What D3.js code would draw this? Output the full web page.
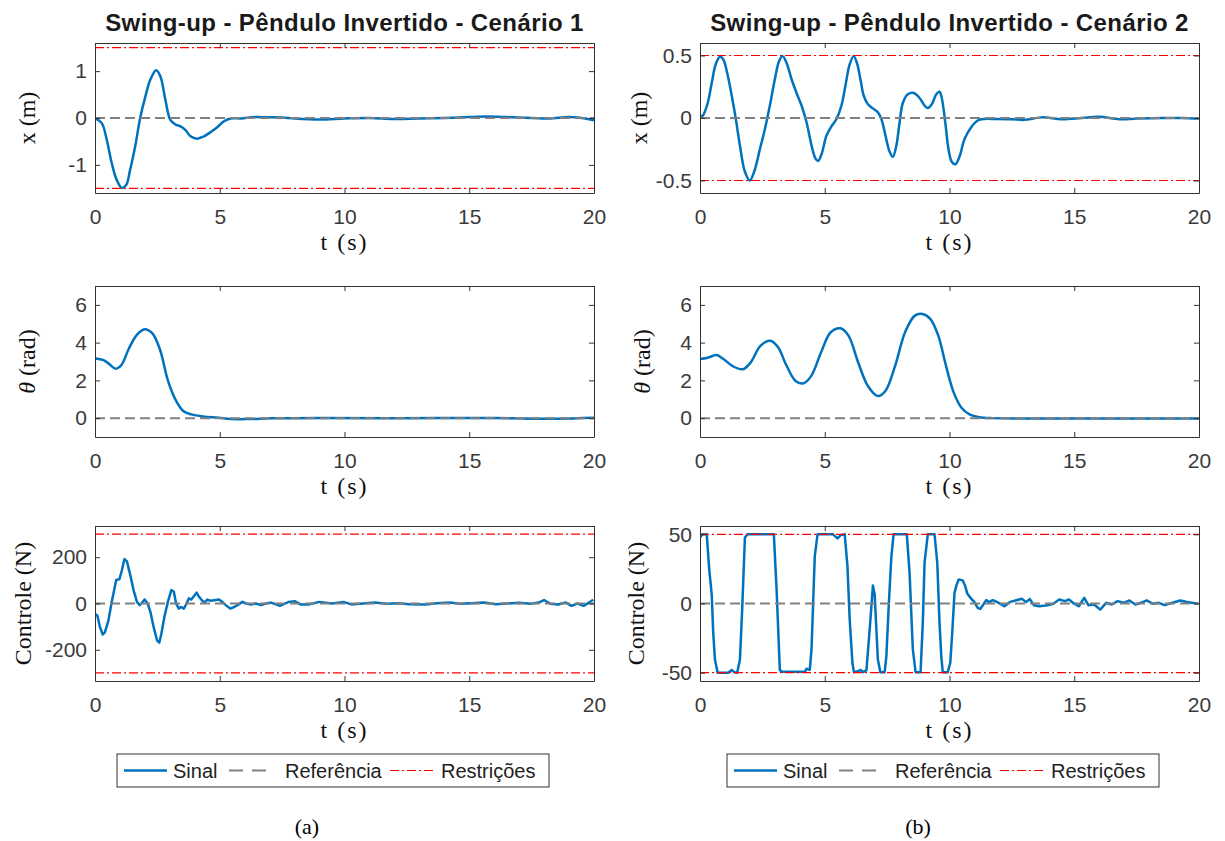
<!DOCTYPE html>
<html lang="pt">
<head>
<meta charset="UTF-8">
<script src="https://cdn.jsdelivr.net/npm/d3@7"></script>
<title>Swing-up - Pêndulo Invertido</title>
<style>
  body { margin: 0; background: #fff; }
</style>
</head>
<body>
<script>

// ---- data ----
var xTicks = [0, 5, 10, 15, 20];
var refT = [0, 20];
var refV = [0, 0];

// Cenario 1 - x (m)
var x1T = [0,0.27,0.47,0.67,0.87,1.07,1.25,1.41,1.61,1.81,2.02,2.22,2.45,2.62,2.82,3.02,3.23,3.43,3.63,3.83,4.1,4.37,4.64,4.91,5.17,5.44,5.85,6.4,6.9,7.5,8,9,10,11,12,13,14,15,15.7,16.5,17.5,18.2,19,19.5,20];
var x1V = [0,-0.11,-0.46,-0.96,-1.32,-1.49,-1.43,-1.1,-0.61,0,0.46,0.82,1.02,0.89,0.39,-0.04,-0.14,-0.18,-0.26,-0.39,-0.44,-0.39,-0.30,-0.19,-0.07,-0.01,-0.01,0.02,0.015,0.01,-0.01,-0.03,-0.01,0,-0.02,-0.01,0,0.02,0.03,0.02,0,-0.01,0.02,0,-0.05];

// Cenario 1 - theta (rad)
var th1T = [0,0.34,0.58,0.83,1.05,1.36,1.67,1.99,2.30,2.61,2.92,3.24,3.55,3.86,4.33,4.96,5.43,6.2,7.1,9,12,16,18.5,20];
var th1V = [3.16,3.07,2.85,2.62,2.8,3.69,4.40,4.71,4.49,3.61,2.0,0.94,0.36,0.2,0.09,0.02,-0.05,-0.05,-0.01,0.01,0,0.005,-0.03,0.02];

// Cenario 1 - controle (N)
var u1T = [0,0.09,0.2,0.31,0.4,0.54,0.67,0.85,0.98,1.08,1.18,1.28,1.41,1.545,1.68,1.79,1.88,1.99,2.11,2.22,2.35,2.49,2.58,2.66,2.78,2.92,3.06,3.16,3.25,3.36,3.45,3.56,3.67,3.76,3.86,3.97,4.07,4.17,4.3,4.4,4.5,4.64,4.84,4.97,5.1,5.24,5.42,5.58,5.71,5.91,6.05,6.25,6.45,6.65,6.85,7.06,7.41,7.77,8.0,8.24,8.55,9.0,9.5,9.96,10.27,10.74,11.2,11.7,12.15,12.6,13.25,13.7,14.2,14.65,15.1,15.6,16.06,16.5,17.0,17.47,17.78,18.0,18.25,18.56,18.87,19.1,19.34,19.58,19.8,19.97];
var u1V = [-46,-51,-102,-134,-124,-73,7,102,105,145,192,182,124,58,7,-7,3,17,0,-36,-102,-160,-169,-131,-58,7,58,51,0,-22,-15,-22,0,22,17,32,47,29,12,4,17,12,15,17,7,-7,-22,-15,-7,7,0,-4,0,-7,0,4,-10,7,10,-4,-4,7,0,7,-4,0,4,-1,1,-3,-4,1,4,-1,1,4,-3,0,3,-1,4,15,-1,-4,4,-10,0,-10,4,16];

// Cenario 2 - x (m)
var x2T = [0,0.13,0.31,0.47,0.63,0.8,0.93,1.09,1.27,1.43,1.6,1.8,2.0,2.17,2.4,2.6,2.8,3.0,3.17,3.31,3.47,3.67,3.87,4.07,4.27,4.47,4.63,4.73,4.87,5.07,5.27,5.47,5.67,5.83,6.0,6.16,6.29,6.43,6.56,6.73,6.93,7.13,7.27,7.4,7.6,7.73,7.87,8.0,8.13,8.33,8.57,8.8,9.0,9.13,9.29,9.47,9.6,9.69,9.83,9.96,10.09,10.23,10.4,10.6,10.87,11.13,11.4,11.8,12.5,13,13.7,14.5,15.3,16,16.8,17.5,18.5,19.3,20];
var x2V = [0,0.024,0.12,0.28,0.43,0.49,0.47,0.36,0.18,0,-0.22,-0.43,-0.5,-0.43,-0.25,-0.09,0.1,0.31,0.455,0.495,0.44,0.31,0.2,0.1,-0.034,-0.22,-0.325,-0.344,-0.29,-0.14,-0.066,-0.008,0.1,0.26,0.43,0.495,0.44,0.31,0.18,0.11,0.077,0.045,-0.008,-0.11,-0.27,-0.31,-0.22,-0.034,0.12,0.19,0.2,0.16,0.1,0.08,0.11,0.19,0.21,0.16,-0.034,-0.25,-0.35,-0.37,-0.31,-0.17,-0.074,-0.02,-0.008,-0.008,-0.01,-0.015,0.005,-0.01,0,0.01,-0.01,-0.005,0,0,-0.005];

// Cenario 2 - theta (rad)
var th2T = [0,0.31,0.66,0.94,1.33,1.72,2.03,2.43,2.82,3.13,3.44,3.83,4.15,4.46,4.85,5.24,5.63,5.95,6.34,6.73,7.12,7.43,7.82,8.22,8.61,8.92,9.23,9.55,9.86,10.17,10.48,10.8,11.19,11.74,13,15,17,20];
var th2V = [3.13,3.2,3.34,3.13,2.74,2.59,2.95,3.84,4.1,3.75,2.86,1.97,1.85,2.24,3.48,4.55,4.76,4.37,2.95,1.7,1.17,1.44,2.77,4.55,5.43,5.52,5.26,4.37,2.77,1.35,0.55,0.2,0.05,0,-0.02,-0.02,-0.02,-0.02];

// Cenario 2 - controle (N)
var u2T = [0,0.09,0.27,0.37,0.47,0.53,0.6,0.71,0.87,1.13,1.27,1.37,1.49,1.6,1.69,1.8,1.91,2.96,3.07,3.2,3.29,4.2,4.27,4.4,4.47,4.6,4.71,5.33,5.51,5.64,5.8,5.91,6.0,6.11,6.17,6.33,6.44,6.53,6.67,6.8,6.93,7.0,7.07,7.13,7.23,7.4,7.47,7.57,7.67,7.76,8.29,8.4,8.53,8.64,8.84,8.93,9.0,9.13,9.4,9.51,9.6,9.67,9.73,9.93,10.03,10.11,10.2,10.29,10.37,10.53,10.63,10.71,10.84,11.0,11.13,11.23,11.33,11.47,11.6,11.73,11.9,12.2,12.44,12.68,12.9,13.07,13.22,13.38,13.6,13.93,14.16,14.4,14.63,14.79,14.95,15.18,15.4,15.57,15.8,16.04,16.28,16.5,16.74,16.98,17.21,17.45,17.68,17.9,18.15,18.39,18.62,18.94,19.25,19.48,19.7,19.95];
var u2V = [47.7,50,50,24.7,6.5,-21,-40.7,-50,-50,-50,-48,-49.6,-50,-40.7,-4.4,47.7,50,50,10,-48,-49.4,-49.4,-47.2,-47.9,-33,34,50,50,47,49.4,50,27,-11.6,-43,-49.6,-49,-48,-49.6,-48.4,-19,13,6.5,-19,-40.7,-49.6,-49.6,-38,0.5,34,50,50,22,-33,-49.6,-49.6,-14,29.5,50,50,29.5,-14,-38,-49.6,-49.6,-43,-21,7.7,13.8,17.4,16.7,12.6,7.3,4.1,1,-3.1,-3.9,-1.5,2.4,1,2.4,1.2,-2,1.2,2.4,3.4,1,3.2,-1.2,-2,-1.2,-0.2,2.9,1.7,2.9,0.5,-2,4.1,-1.2,-0.7,-4.4,0.5,-0.7,1.7,0.5,2.2,-0.7,0.5,2.2,-0.2,0.5,-1.2,0.5,2.2,1.2,0.5,0];

var yTicksX1 = [-1, 0, 1];
var yTicksX2 = [-0.5, 0, 0.5];
var yTicksTh = [0, 2, 4, 6];
var yTicksU1 = [-200, 0, 200];
var yTicksU2 = [-50, 0, 50];

var titles = ["Swing-up - Pêndulo Invertido - Cenário 1", "Swing-up - Pêndulo Invertido - Cenário 2"];
var legendNames = ["Sinal", "Referência", "Restrições"];
var subLabels = ["(a)", "(b)"];

// ---- layout ----
var w = 1225, h = 841;
var cols = [{x0: 95, x1: 594}, {x0: 700, x1: 1199}];
var rows = [{y0: 43, y1: 193}, {y0: 286, y1: 437}, {y0: 526, y1: 681}];

var blue = "#0072BD", gray = "#808080", red = "#FF0000", axisCol = "#333333";

var panels = [
  {c: 0, r: 0, t: x1T, v: x1V, ylim: [-1.6, 1.6], ticks: yTicksX1, lim: 1.5, label: "x (m)", smooth: true, lab: 60},
  {c: 0, r: 1, t: th1T, v: th1V, ylim: [-1, 7], ticks: yTicksTh, lim: null, label: "theta", smooth: true, lab: 60},
  {c: 0, r: 2, t: u1T, v: u1V, ylim: [-335, 335], ticks: yTicksU1, lim: 300, label: "Controle (N)", smooth: false, lab: 64},
  {c: 1, r: 0, t: x2T, v: x2V, ylim: [-0.6, 0.6], ticks: yTicksX2, lim: 0.5, label: "x (m)", smooth: true, lab: 53},
  {c: 1, r: 1, t: th2T, v: th2V, ylim: [-1, 7], ticks: yTicksTh, lim: null, label: "theta", smooth: true, lab: 50},
  {c: 1, r: 2, t: u2T, v: u2V, ylim: [-56, 56], ticks: yTicksU2, lim: 50, label: "Controle (N)", smooth: false, lab: 56}
];

var svg = d3.select("body")
  .append("svg")
  .attr("width", w)
  .attr("height", h)
  .style("font-family", "'Liberation Sans', Arial, sans-serif");

svg.append("rect").attr("width", w).attr("height", h).attr("fill", "#fff");

panels.forEach(function (p, i) {
  var col = cols[p.c], row = rows[p.r];
  var xScale = d3.scaleLinear().domain([0, 20]).range([col.x0, col.x1]);
  var yScale = d3.scaleLinear().domain(p.ylim).range([row.y1, row.y0]);

  var clipId = "clip" + i;
  svg.append("clipPath").attr("id", clipId)
    .append("rect")
    .attr("x", col.x0).attr("y", row.y0)
    .attr("width", col.x1 - col.x0).attr("height", row.y1 - row.y0);

  var g = svg.append("g").attr("clip-path", "url(#" + clipId + ")");

  var line = d3.line()
    .x(function (d) { return xScale(d[0]); })
    .y(function (d) { return yScale(d[1]); })
    .curve(p.smooth ? d3.curveCatmullRom.alpha(0.5) : d3.curveLinear);

  var sig = p.t.map(function (t, k) { return [t, p.v[k]]; });
  var ref = refT.map(function (t, k) { return [t, refV[k]]; });

  g.append("path").attr("d", line(sig))
    .attr("fill", "none").attr("stroke", blue)
    .attr("stroke-width", 2.5).attr("stroke-linejoin", "round");

  g.append("path").attr("d", d3.line().x(function (d) { return xScale(d[0]); }).y(function (d) { return yScale(d[1]); })(ref))
    .attr("fill", "none").attr("stroke", gray)
    .attr("stroke-width", 2).attr("stroke-dasharray", "10,5");

  if (p.lim !== null) {
    [p.lim, -p.lim].forEach(function (L) {
      g.append("line")
        .attr("x1", xScale(0)).attr("x2", xScale(20))
        .attr("y1", yScale(L)).attr("y2", yScale(L))
        .attr("stroke", red).attr("stroke-width", 1.2)
        .attr("stroke-dasharray", "9,3,2,3");
    });
  }

  // axes: inward ticks on all four sides
  var fmt = function (d) { return String(d); };
  var axB = svg.append("g").attr("transform", "translate(0," + row.y1 + ")")
    .call(d3.axisBottom(xScale).tickValues(xTicks).tickFormat(fmt).tickSizeInner(-5).tickSizeOuter(0).tickPadding(16));
  var axL = svg.append("g").attr("transform", "translate(" + col.x0 + ",0)")
    .call(d3.axisLeft(yScale).tickValues(p.ticks).tickFormat(fmt).tickSizeInner(-5).tickSizeOuter(0).tickPadding(8));
  var axT = svg.append("g").attr("transform", "translate(0," + row.y0 + ")")
    .call(d3.axisTop(xScale).tickValues(xTicks).tickFormat("").tickSizeInner(-5).tickSizeOuter(0));
  var axR = svg.append("g").attr("transform", "translate(" + col.x1 + ",0)")
    .call(d3.axisRight(yScale).tickValues(p.ticks).tickFormat("").tickSizeInner(-5).tickSizeOuter(0));

  [axB, axL, axT, axR].forEach(function (a) {
    a.selectAll("path.domain").attr("stroke", axisCol).attr("stroke-width", 1);
    a.selectAll(".tick line").attr("stroke", axisCol).attr("stroke-width", 1);
    a.selectAll("text").attr("fill", "#3a3a3a")
      .style("font-family", "'Liberation Sans', Arial, sans-serif")
      .style("font-size", "21px");
  });

  // x label
  svg.append("text")
    .attr("x", (col.x0 + col.x1) / 2)
    .attr("y", row.y1 + 57)
    .attr("text-anchor", "middle")
    .attr("fill", "#111")
    .style("font-family", "'Liberation Serif', 'Times New Roman', serif")
    .style("font-size", "24px")
    .style("letter-spacing", "2px")
    .text("t (s)");

  // y label
  var yl = svg.append("text")
    .attr("transform", "translate(" + (col.x0 - p.lab) + "," + ((row.y0 + row.y1) / 2) + ") rotate(-90)")
    .attr("text-anchor", "middle")
    .attr("fill", "#111")
    .style("font-family", "'Liberation Serif', 'Times New Roman', serif")
    .style("font-size", "24px");
  if (p.label === "theta") {
    yl.append("tspan").style("font-style", "italic").text("θ");
    yl.append("tspan").text(" (rad)");
  } else {
    yl.text(p.label);
  }
});

// titles
titles.forEach(function (tt, c) {
  svg.append("text")
    .attr("x", (cols[c].x0 + cols[c].x1) / 2)
    .attr("y", 31)
    .attr("text-anchor", "middle")
    .attr("fill", "#1a1a1a")
    .style("font-weight", "bold")
    .style("font-size", "24px")
    .style("letter-spacing", "0.4px")
    .text(tt);
});

// legends
var legendX = [117, 727];
legendX.forEach(function (lx, c) {
  var lg = svg.append("g").attr("transform", "translate(" + lx + ",754)");
  lg.append("rect").attr("width", 432).attr("height", 33)
    .attr("fill", "#fff").attr("stroke", axisCol).attr("stroke-width", 1);
  var ly = 16.5;
  lg.append("line").attr("x1", 7).attr("x2", 50).attr("y1", ly).attr("y2", ly)
    .attr("stroke", blue).attr("stroke-width", 2.5);
  lg.append("line").attr("x1", 112).attr("x2", 156).attr("y1", ly).attr("y2", ly)
    .attr("stroke", gray).attr("stroke-width", 2).attr("stroke-dasharray", "14,9");
  lg.append("line").attr("x1", 273).attr("x2", 318).attr("y1", ly).attr("y2", ly)
    .attr("stroke", red).attr("stroke-width", 1.2).attr("stroke-dasharray", "9,3,2,3");
  var tx = [56, 168, 324];
  legendNames.forEach(function (n, k) {
    lg.append("text").attr("x", tx[k]).attr("y", ly + 7)
      .attr("fill", "#222")
      .style("font-size", "20px")
      .text(n);
  });
});

// sub-figure labels
var subX = [307, 918];
subLabels.forEach(function (s, c) {
  svg.append("text")
    .attr("x", subX[c]).attr("y", 834)
    .attr("text-anchor", "middle")
    .attr("fill", "#000")
    .style("font-family", "'Liberation Serif', 'Times New Roman', serif")
    .style("font-size", "22px")
    .text(s);
});

</script>
</body>
</html>
